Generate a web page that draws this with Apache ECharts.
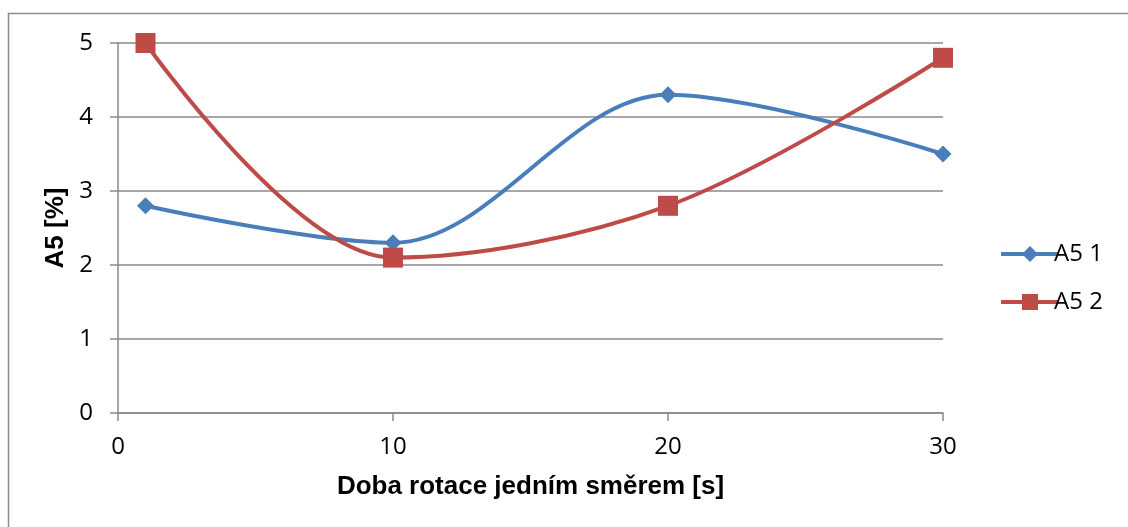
<!DOCTYPE html>
<html>
<head>
<meta charset="utf-8">
<script src="https://cdn.jsdelivr.net/npm/echarts@6/dist/echarts.min.js"></script>
<style>
  html, body { margin: 0; padding: 0; background: #fff; }
  #chart { width: 1128px; height: 527px; }
</style>
</head>
<body>
<div id="chart"></div>
<script>
// Rotation time in one direction [s]
const times = [1, 10, 20, 30];
// A5 values [%]
const a5Series1 = [2.8, 2.3, 4.3, 3.5];
const a5Series2 = [5.0, 2.1, 2.8, 4.8];
const seriesNames = ['A5 1', 'A5 2'];
const xTitle = 'Doba rotace jedním směrem [s]';
const yTitle = 'A5 [%]';

const labelFont = 'Open Sans';
const titleFont = 'Liberation Sans';
const gridColor = '#8a8a8a';

const toPairs = (xs, ys) => xs.map((x, i) => [x, ys[i]]);

const chart = echarts.init(document.getElementById('chart'), null, { renderer: 'canvas' });
chart.setOption({
  animation: false,
  backgroundColor: '#ffffff',
  graphic: [{
    type: 'rect',
    shape: { x: 8.5, y: 13.5, width: 1200, height: 600 },
    style: { fill: 'none', stroke: '#8c8c8c', lineWidth: 1.5 },
    silent: true
  }],
  grid: { left: 118, right: 185, top: 43, bottom: 114 },
  legend: {
    orient: 'vertical',
    left: 994,
    top: 237,
    itemWidth: 58,
    itemHeight: 20,
    itemGap: 24,
    lineStyle: { width: 4 },
    textStyle: { fontFamily: labelFont, fontSize: 24, color: '#000', padding: [0, 0, 0, -10] },
    data: seriesNames
  },
  xAxis: {
    type: 'value',
    min: 0,
    max: 30,
    interval: 10,
    name: xTitle,
    nameLocation: 'middle',
    nameGap: 61,
    nameTextStyle: { fontFamily: titleFont, fontSize: 26, fontWeight: 'bold', color: '#000' },
    axisLine: { show: true, lineStyle: { color: gridColor, width: 1.5 } },
    axisTick: { show: true, length: 8, lineStyle: { color: gridColor, width: 1.5 } },
    axisLabel: { fontFamily: labelFont, fontSize: 24, color: '#000', margin: 22 },
    splitLine: { show: false }
  },
  yAxis: {
    type: 'value',
    min: 0,
    max: 5,
    interval: 1,
    name: yTitle,
    nameLocation: 'middle',
    nameGap: 42,
    nameRotate: 90,
    nameTextStyle: { fontFamily: titleFont, fontSize: 26, fontWeight: 'bold', color: '#000' },
    axisLine: { show: true, lineStyle: { color: gridColor, width: 1.5 } },
    axisTick: { show: true, length: 8, lineStyle: { color: gridColor, width: 1.5 } },
    axisLabel: { fontFamily: labelFont, fontSize: 24, color: '#000', margin: 25 },
    splitLine: { show: true, lineStyle: { color: gridColor, width: 1.5 } }
  },
  series: [
    {
      name: seriesNames[0],
      type: 'line',
      data: toPairs(times, a5Series1),
      smooth: 0.34,
      symbol: 'diamond',
      symbolSize: 17,
      color: '#4a7ebb',
      lineStyle: { width: 4, color: '#4a7ebb' },
      itemStyle: { color: '#4a7ebb' },
      z: 3
    },
    {
      name: seriesNames[1],
      type: 'line',
      data: toPairs(times, a5Series2),
      smooth: 0.34,
      symbol: 'rect',
      symbolSize: 20,
      color: '#be4b48',
      lineStyle: { width: 4, color: '#be4b48' },
      itemStyle: { color: '#be4b48' },
      z: 4
    }
  ]
});
</script>
</body>
</html>
